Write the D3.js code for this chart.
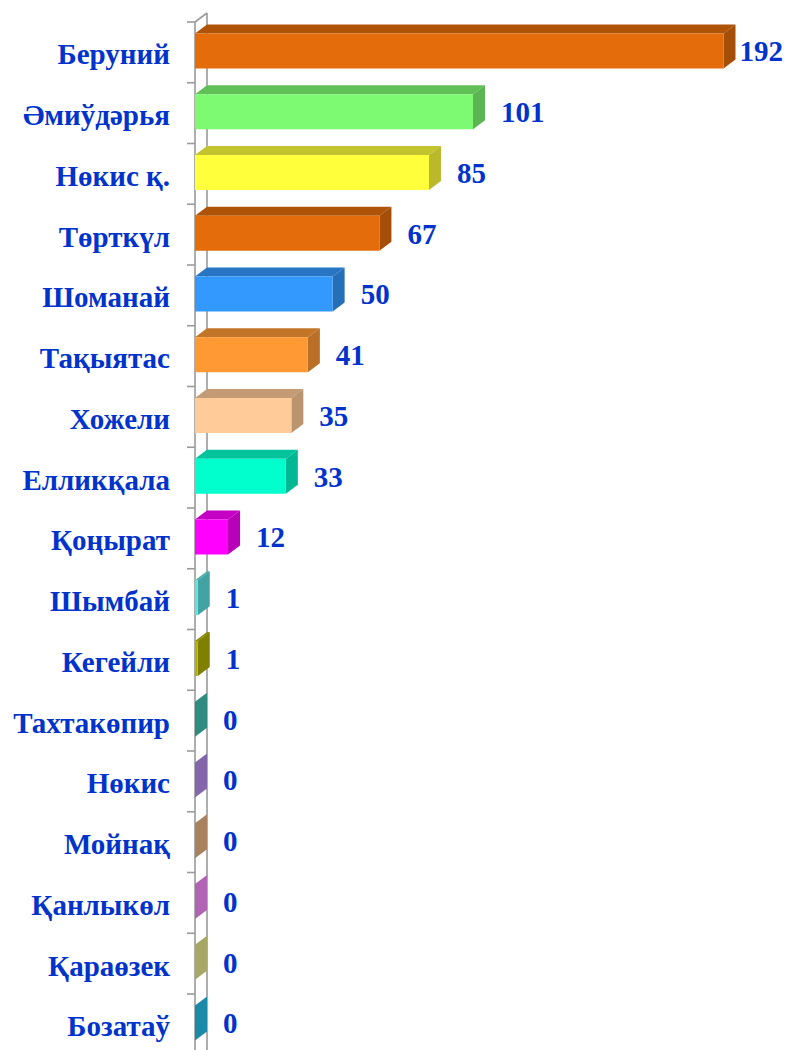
<!DOCTYPE html>
<html>
<head>
<meta charset="utf-8">
<script src="https://cdn.jsdelivr.net/npm/d3@7"></script>
<style>
  html, body { margin: 0; padding: 0; background: #ffffff; }
</style>
</head>
<body>
<div id="chart"></div>
<script>
  // District names, top to bottom
  const districts = [
    "Беруний", "Әмиўдәрья", "Нөкис қ.", "Төрткүл", "Шоманай", "Тақыятас",
    "Хожели", "Елликқала", "Қоңырат", "Шымбай", "Кегейли", "Тахтакөпир",
    "Нөкис", "Мойнақ", "Қанлыкөл", "Қараөзек", "Бозатаў"
  ];
  const counts = [192, 101, 85, 67, 50, 41, 35, 33, 12, 1, 1, 0, 0, 0, 0, 0, 0];
  const barColors = [
    "#E46C0A", "#7DFA72", "#FFFF3B", "#E46C0A", "#3399FF", "#FF9933",
    "#FFCC99", "#00FFCC", "#FF00FF", "#5CE0E0", "#B0B000", "#41C1B1",
    "#B68DEB", "#E8B282", "#F68AF8", "#E8E88C", "#24BEE8"
  ];

  const W = 786, H = 1050;
  const FONT = "'Liberation Serif', 'Times New Roman', serif";
  const TEXT_COLOR = "#0033CC";
  const DX = 12, DY = 9;          // 3d depth offset
  const BAND_TOP = 22, BAND_STEP = 60.75;

  const rows = districts.map((name, i) => ({ name, value: counts[i], color: barColors[i] }));

  const svg = d3.select("#chart").append("svg")
    .attr("width", W).attr("height", H);

  const x = d3.scaleLinear().domain([0, 192]).range([195, 723.5]);
  const y = d3.scaleBand().domain(districts)
    .range([BAND_TOP, BAND_TOP + BAND_STEP * districts.length])
    .padding(0);
  const bw = y.bandwidth();

  // Axis wall (front + back edges, top bevel)
  const wall = svg.append("g").attr("stroke", "#9a9a9a").attr("stroke-width", 1.6).attr("fill", "none");
  wall.append("line").attr("x1", x(0) + DX).attr("x2", x(0) + DX).attr("y1", BAND_TOP - DY).attr("y2", H + 10);
  wall.append("line").attr("x1", x(0)).attr("x2", x(0)).attr("y1", BAND_TOP).attr("y2", H + 10);
  wall.append("line").attr("x1", x(0)).attr("x2", x(0) + DX).attr("y1", BAND_TOP).attr("y2", BAND_TOP - DY);

  // Tick marks at band boundaries
  const bounds = districts.map(d => y(d)).concat([y.range()[1]]);
  wall.selectAll("line.tick").data(bounds).enter().append("line")
    .attr("class", "tick")
    .attr("x1", x(0) - 8).attr("x2", x(0))
    .attr("y1", d => d).attr("y2", d => d);

  // 3D bars
  const bars = svg.append("g").selectAll("g.bar").data(rows).enter().append("g").attr("class", "bar");
  const frontTop = d => y(d.name) + 11.5;
  const frontBot = d => y(d.name) + 46.5;

  bars.append("polygon") // top face
    .attr("points", d => {
      const x0 = x(0), x1 = x(d.value), yt = frontTop(d);
      return [[x0, yt], [x1, yt], [x1 + DX, yt - DY], [x0 + DX, yt - DY]].join(" ");
    })
    .attr("fill", d => d3.color(d.color).darker(0.75));

  bars.append("polygon") // side face
    .attr("points", d => {
      const x1 = x(d.value), yt = frontTop(d), yb = frontBot(d);
      return [[x1, yt], [x1 + DX, yt - DY], [x1 + DX, yb - DY], [x1, yb]].join(" ");
    })
    .attr("fill", d => d3.color(d.color).darker(0.9));

  bars.append("rect") // front face
    .attr("x", x(0))
    .attr("y", d => frontTop(d))
    .attr("width", d => x(d.value) - x(0))
    .attr("height", d => frontBot(d) - frontTop(d))
    .attr("fill", d => d.color);

  // Category labels
  svg.append("g").selectAll("text").data(rows).enter().append("text")
    .attr("x", 170)
    .attr("y", d => y(d.name) + bw / 2 + 2)
    .attr("text-anchor", "end")
    .attr("dominant-baseline", "central")
    .attr("font-family", FONT).attr("font-weight", "bold").attr("font-size", "29px")
    .attr("fill", TEXT_COLOR)
    .text(d => d.name);

  // Value labels
  svg.append("g").selectAll("text").data(rows).enter().append("text")
    .attr("y", d => y(d.name) + bw / 2 - 1)
    .attr("dominant-baseline", "central")
    .attr("font-family", FONT).attr("font-weight", "bold").attr("font-size", "29px")
    .attr("fill", TEXT_COLOR)
    .text(d => d.value)
    .attr("x", function (d) {
      const tw = this.getComputedTextLength();
      return Math.min(x(d.value) + DX + 16, W - 3 - tw);
    });
</script>
</body>
</html>
